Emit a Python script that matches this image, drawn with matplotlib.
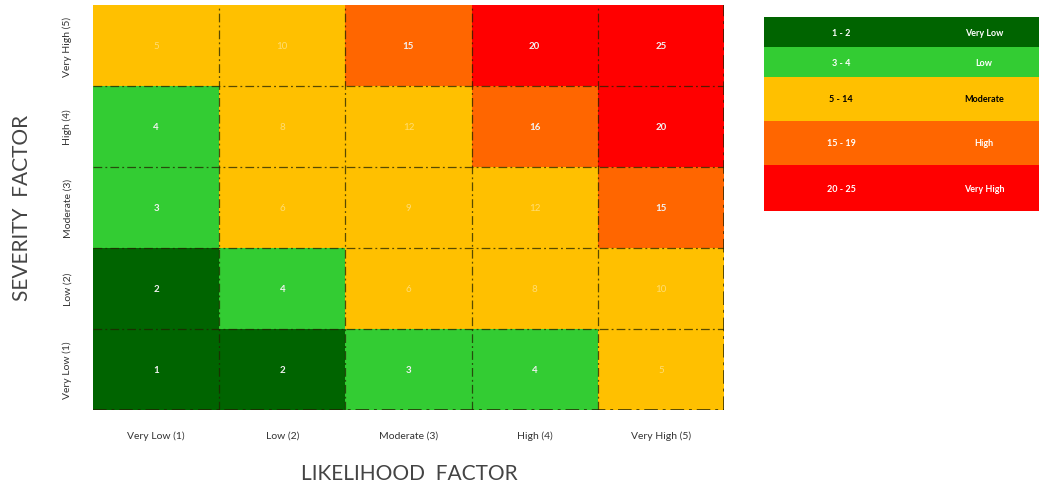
import numpy as np
import matplotlib
matplotlib.use("Agg")
import matplotlib.pyplot as plt
from matplotlib.colors import ListedColormap, BoundaryNorm

# Axis categories
likelihood = ["Very Low (1)", "Low (2)", "Moderate (3)", "High (4)", "Very High (5)"]
severity = ["Very Low (1)", "Low (2)", "Moderate (3)", "High (4)", "Very High (5)"]
likelihood_scores = [1, 2, 3, 4, 5]
severity_scores = [1, 2, 3, 4, 5]

# Risk bands
band_ranges = ["1 - 2", "3 - 4", "5 - 14", "15 - 19", "20 - 25"]
band_names = ["Very Low", "Low", "Moderate", "High", "Very High"]
band_bounds = [0.5, 2.5, 4.5, 14.5, 19.5, 25.5]
band_colors = ["#006400", "#33CC33", "#FFC000", "#FF6600", "#FF0000"]
band_text = ["white", "white", "black", "white", "white"]

plt.rcParams["font.family"] = ["Lato", "DejaVu Sans"]

scores = np.outer(severity_scores, likelihood_scores)

fig = plt.figure(figsize=(10.39, 4.85), dpi=100)
ax = fig.add_axes([0.0895, 0.1526, 0.6073, 0.8350])

cmap = ListedColormap(band_colors)
norm = BoundaryNorm(band_bounds, cmap.N)
ax.pcolormesh(np.arange(6) + 0.5, np.arange(6) + 0.5, scores, cmap=cmap, norm=norm)

# dash-dot cell borders
dash = (0, (7, 2.5, 1.5, 2.5))
for k in range(1, 5):
    ax.axvline(k + 0.5, color="#222200", alpha=0.75, lw=0.9, ls=dash)
    ax.axhline(k + 0.5, color="#222200", alpha=0.75, lw=0.9, ls=dash)
ax.axvline(5.5, color="#222200", alpha=0.75, lw=1.4, ls=dash)
ax.axhline(0.5, color="#222200", alpha=0.75, lw=1.4, ls=dash)

# cell values
for i, s in enumerate(severity_scores):
    for j, l in enumerate(likelihood_scores):
        v = scores[i, j]
        band = np.searchsorted(band_bounds, v) - 1
        if band_colors[band] == "#FFC000":
            ax.text(l, s, str(v), ha="center", va="center", fontsize=7,
                    color="white", alpha=0.45)
        else:
            ax.text(l, s, str(v), ha="center", va="center", fontsize=7,
                    color="#f2f2f2", fontweight="bold")

ax.set_xlim(0.5, 5.5)
ax.set_ylim(0.5, 5.5)
ax.set_xticks(likelihood_scores)
ax.set_xticklabels(likelihood, fontsize=7.5, color="#333333")
ax.set_yticks(severity_scores)
ax.set_yticklabels(severity, fontsize=7.5, color="#333333", rotation=90, va="center")
ax.tick_params(axis="x", length=0, pad=15)
ax.tick_params(axis="y", length=0, pad=15)
for sp in ax.spines.values():
    sp.set_visible(False)

fig.text(409 / 1039, 1 - 474 / 485, "LIKELIHOOD  FACTOR", fontsize=15,
         color="#444444", ha="center", va="center")
fig.text(22 / 1039, 1 - 208 / 485, "SEVERITY  FACTOR", fontsize=15,
         color="#444444", ha="center", va="center", rotation=90)

# risk band key
row_heights = [30, 30, 44, 44, 46]
kx0, kx1, ky0 = 764, 1039, 18
H = 485
lax = fig.add_axes([kx0 / 1039, 1 - (ky0 + sum(row_heights)) / H,
                    (kx1 - kx0) / 1039, sum(row_heights) / H])
tops = np.cumsum([0] + row_heights[:-1])
lax.barh(tops + np.array(row_heights) / 2, 1, height=row_heights,
         color=band_colors, left=0)
for t, h, r, n, c in zip(tops, row_heights, band_ranges, band_names, band_text):
    lax.text(0.28, t + h / 2, r, ha="center", va="center", fontsize=6.5,
             color=c, fontweight="bold")
    lax.text(0.80, t + h / 2, n, ha="center", va="center", fontsize=6.5,
             color=c, fontweight="bold")
lax.set_xlim(0, 1)
lax.set_ylim(sum(row_heights), 0)
lax.axis("off")

fig.savefig("out.png", dpi=100)
